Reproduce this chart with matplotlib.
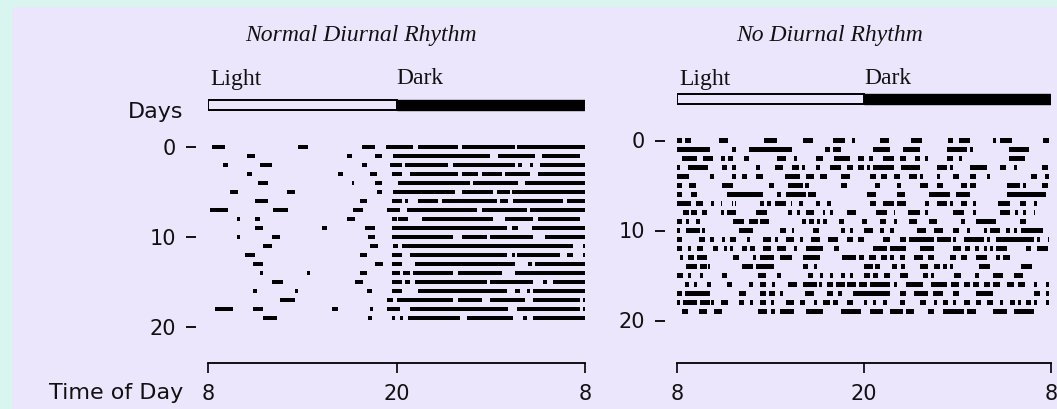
import matplotlib
matplotlib.use("Agg")
import matplotlib.pyplot as plt
from matplotlib.patches import Rectangle

# Activity bouts for each day, as (start, end) in hours after 08:00
NORMAL_RHYTHM = [
    [(0.23, 1.08), (5.75, 6.39), (9.78, 10.63), (11.33, 13.07), (13.39, 15.93), (16.15, 19.54), (19.69, 24)],
    [(2.46, 2.99), (8.83, 9.15), (10.63, 11.05), (11.8, 17.95), (18.48, 20.81), (21.24, 23.68)],
    [(0.98, 1.29), (3.31, 4.05), (9.78, 10.1), (11.58, 12.33), (12.54, 15.3), (15.62, 19.54), (19.75, 19.97), (20.5, 20.71), (21.13, 24)],
    [(2.46, 2.78), (8.3, 8.61), (10.31, 10.74), (11.69, 12.33), (12.86, 15.93), (16.15, 17.21), (17.42, 18.69), (18.91, 20.5), (21.03, 24)],
    [(3.2, 3.84), (9.15, 9.29), (10.63, 11.05), (12.12, 16.68), (16.89, 19.75), (20.18, 24)],
    [(1.4, 1.93), (5.01, 5.54), (10.74, 11.05), (11.8, 15.72), (16.15, 18.16), (18.37, 19.23), (19.33, 24)],
    [(2.99, 3.84), (9.68, 10.1), (11.69, 12.33), (12.54, 12.75), (13.39, 14.66), (14.87, 18.37), (18.59, 19.12), (19.44, 22.62), (22.83, 24)],
    [(0.13, 1.29), (4.16, 5.11), (9.25, 9.89), (11.37, 12.22), (12.65, 17.1), (17.42, 20.28), (20.5, 24)],
    [(1.82, 2.04), (2.99, 3.31), (8.83, 9.36), (11.69, 12.01), (12.12, 12.75), (13.6, 18.16), (18.91, 20.71), (21.03, 23.68)],
    [(2.99, 3.52), (7.24, 7.55), (9.99, 10.63), (11.69, 19.01), (19.33, 19.75), (20.6, 24)],
    [(1.82, 2.04), (4.05, 4.58), (10.21, 10.63), (11.69, 15.62), (16.15, 17.74), (17.95, 20.71), (21.45, 24)],
    [(3.52, 4.05), (10.31, 10.84), (11.8, 12.12), (12.33, 23.26), (23.89, 24)],
    [(2.36, 2.99), (9.68, 10.1), (11.69, 12.33), (12.86, 19.01), (19.33, 19.54), (19.65, 22.41), (22.83, 23.26), (23.89, 24)],
    [(2.89, 3.52), (10.63, 11.16), (11.69, 12.33), (13.18, 19.54), (20.39, 20.6), (20.81, 24)],
    [(3.31, 3.52), (6.28, 6.49), (9.68, 10.1), (11.69, 12.22), (12.43, 12.86), (13.07, 15.62), (15.93, 18.69), (19.54, 24)],
    [(4.05, 4.8), (9.36, 9.89), (11.69, 12.33), (12.54, 12.86), (13.18, 17.74), (17.95, 20.71), (21.35, 21.56), (21.98, 24)],
    [(2.89, 3.1), (5.54, 5.75), (10.1, 10.42), (11.69, 12.33), (13.39, 19.01), (19.54, 19.86), (20.28, 20.5), (20.71, 24)],
    [(4.58, 5.54), (11.37, 11.8), (12.01, 15.62), (15.93, 17.42), (17.95, 20.18), (20.71, 23.68), (23.89, 24)],
    [(0.45, 1.61), (2.89, 3.52), (7.87, 8.3), (10.31, 10.52), (11.37, 12.22), (12.86, 19.12), (19.65, 23.68), (23.89, 24)],
    [(3.52, 4.37), (10.21, 10.42), (11.69, 11.9), (12.22, 12.43), (12.75, 16.04), (16.47, 19.44), (20.07, 20.28), (20.71, 24)],
]

NO_RHYTHM = [
    [(0.0, 0.3), (0.5, 0.9), (2.7, 3.3), (5.6, 6.4), (8.1, 8.7), (10.0, 10.8), (11.2, 11.4), (13.0, 13.6), (15.0, 15.7), (17.4, 17.7), (18.1, 18.8), (20.3, 20.5), (20.7, 21.5), (23.5, 23.9)],
    [(0.0, 2.1), (3.5, 3.8), (4.6, 7.4), (9.5, 9.8), (10.0, 10.5), (12.6, 13.7), (14.5, 15.6), (17.3, 18.6), (18.8, 19.0), (21.3, 22.6)],
    [(0.3, 1.3), (1.7, 2.3), (2.8, 3.1), (3.3, 3.6), (4.3, 4.6), (6.4, 7.0), (7.5, 7.7), (8.9, 9.4), (10.1, 11.1), (11.6, 12.0), (12.3, 12.6), (13.2, 13.9), (14.3, 14.7), (15.3, 15.6), (15.9, 16.1), (17.3, 17.7), (18.1, 18.3), (21.3, 22.3)],
    [(0.0, 0.2), (0.7, 2.0), (2.9, 3.2), (3.5, 3.8), (5.1, 5.3), (6.3, 6.8), (7.4, 7.8), (8.0, 8.2), (8.9, 9.2), (9.8, 10.5), (10.9, 11.3), (11.6, 12.0), (12.2, 12.4), (12.6, 13.9), (14.4, 15.6), (16.7, 17.3), (17.5, 17.7), (18.8, 19.9), (20.7, 21.1), (21.6, 21.8), (23.4, 23.8)],
    [(0.0, 0.8), (2.1, 2.4), (3.5, 3.8), (4.2, 4.5), (5.1, 5.5), (6.9, 7.9), (8.3, 8.8), (9.2, 9.6), (10.5, 11.1), (12.4, 12.8), (13.1, 13.5), (13.9, 14.3), (14.9, 15.4), (15.6, 15.8), (16.7, 16.9), (17.7, 18.1), (18.8, 19.2), (19.9, 20.1), (22.7, 23.1), (23.6, 23.9)],
    [(0.0, 0.3), (0.8, 1.2), (2.9, 3.6), (5.9, 6.2), (7.1, 8.1), (8.2, 8.5), (10.5, 10.9), (12.7, 13.0), (14.1, 14.4), (15.6, 16.1), (16.7, 17.1), (18.2, 18.6), (18.8, 19.2), (21.2, 22.0), (22.2, 22.4), (23.4, 23.8)],
    [(0.0, 0.3), (0.9, 1.3), (3.2, 5.5), (6.4, 6.7), (7.0, 8.3), (8.4, 8.9), (12.2, 12.8), (14.1, 14.6), (16.2, 17.5), (17.9, 18.8), (21.2, 23.7)],
    [(0.0, 0.9), (1.2, 1.7), (2.2, 2.4), (2.8, 2.9), (3.5, 3.6), (3.7, 3.8), (5.3, 5.6), (5.8, 6.0), (6.3, 7.0), (7.3, 7.4), (7.8, 8.1), (8.9, 9.2), (9.6, 9.9), (12.4, 12.8), (13.2, 13.9), (14.1, 14.7), (15.9, 16.2), (16.7, 17.3), (17.5, 17.7), (18.2, 18.6), (19.0, 19.2), (20.6, 21.4), (22.0, 22.4), (22.9, 23.1)],
    [(0.4, 0.8), (0.9, 1.3), (1.6, 1.9), (2.8, 3.0), (3.2, 3.8), (5.1, 5.8), (7.1, 7.4), (7.7, 7.9), (8.3, 8.8), (9.4, 9.5), (9.8, 10.0), (10.9, 11.5), (12.8, 13.5), (13.9, 14.0), (14.8, 15.6), (15.9, 16.1), (17.7, 18.4), (19.0, 19.2), (20.7, 21.4), (21.7, 21.9), (22.2, 22.4), (22.9, 23.0)],
    [(0.0, 0.3), (0.6, 0.8), (1.2, 1.5), (3.6, 4.3), (4.6, 5.2), (5.3, 5.9), (8.0, 8.3), (8.5, 8.8), (9.0, 9.2), (9.4, 9.6), (10.4, 10.7), (11.9, 12.2), (13.0, 13.4), (13.9, 14.1), (14.9, 15.4), (16.2, 16.7), (18.2, 18.5), (19.2, 20.5), (22.0, 22.4)],
    [(0.0, 0.2), (0.6, 1.5), (1.6, 1.8), (4.0, 4.9), (6.6, 7.0), (7.4, 7.5), (8.7, 9.1), (10.5, 10.8), (11.1, 11.3), (12.0, 12.6), (13.0, 13.3), (13.7, 13.9), (15.4, 16.0), (16.5, 17.1), (17.7, 18.1), (18.6, 18.8), (19.7, 19.9), (20.1, 20.7), (21.1, 21.4), (21.6, 21.8), (22.1, 23.5)],
    [(0.0, 0.3), (1.4, 1.8), (2.1, 2.4), (2.9, 3.1), (3.4, 3.8), (4.5, 4.7), (5.5, 6.0), (6.3, 6.5), (7.0, 7.5), (7.9, 8.1), (8.6, 9.2), (9.7, 10.3), (10.9, 11.3), (11.6, 12.0), (13.2, 13.7), (14.3, 14.7), (14.9, 16.5), (16.7, 17.6), (17.7, 17.9), (18.4, 19.7), (19.9, 20.1), (20.5, 22.9), (23.1, 23.3), (23.8, 23.9)],
    [(0.0, 0.3), (0.7, 0.9), (1.3, 1.7), (2.3, 2.6), (3.0, 3.2), (3.4, 3.6), (4.2, 4.5), (4.7, 5.0), (5.5, 6.0), (6.4, 7.0), (7.5, 7.7), (8.3, 9.4), (10.1, 10.4), (12.6, 13.5), (13.7, 14.7), (15.6, 16.5), (17.7, 18.2), (18.5, 18.8), (19.1, 19.4), (19.7, 19.9), (20.1, 20.3), (20.5, 21.2), (22.4, 22.7), (23.1, 23.8)],
    [(0.2, 0.4), (0.7, 1.1), (1.3, 1.9), (3.6, 4.0), (4.9, 5.1), (5.3, 6.2), (6.6, 7.4), (8.1, 9.2), (10.6, 11.5), (11.7, 12.0), (12.3, 12.8), (13.1, 13.5), (13.7, 13.9), (14.3, 14.6), (15.2, 15.8), (16.1, 16.5), (17.5, 17.9), (18.2, 18.6), (19.2, 19.9), (20.5, 20.7), (20.9, 21.4)],
    [(0.6, 1.3), (1.5, 1.9), (2.0, 2.1), (4.2, 4.9), (5.1, 6.2), (8.1, 8.4), (8.8, 9.0), (12.0, 12.6), (12.7, 13.0), (13.8, 14.1), (14.4, 14.6), (15.6, 16.1), (16.5, 16.9), (17.1, 17.3), (17.5, 17.7), (19.4, 20.1), (22.1, 22.8)],
    [(0.0, 0.4), (0.7, 0.9), (1.5, 1.7), (2.9, 3.2), (5.2, 5.7), (6.4, 6.7), (8.4, 8.7), (9.2, 9.4), (9.8, 10.0), (10.5, 10.8), (11.1, 11.3), (12.0, 12.4), (12.6, 12.9), (13.3, 13.7), (14.3, 14.8), (15.8, 16.1), (16.3, 16.5), (17.8, 18.2), (19.1, 19.4), (20.3, 20.9), (21.6, 22.2)],
    [(0.5, 0.8), (1.1, 1.3), (1.9, 2.2), (3.2, 3.5), (4.6, 4.9), (5.3, 5.7), (6.1, 6.3), (7.1, 7.7), (8.1, 9.0), (9.1, 9.3), (9.6, 10.0), (10.2, 10.8), (10.9, 11.5), (11.7, 12.2), (12.4, 13.7), (13.9, 14.1), (14.7, 15.8), (16.3, 17.3), (17.6, 18.1), (18.4, 18.8), (19.0, 19.4), (19.7, 20.1), (20.3, 20.7), (21.2, 21.6), (21.9, 22.3), (22.9, 23.1), (23.7, 23.9)],
    [(0.0, 0.3), (0.5, 2.1), (4.0, 4.4), (5.3, 5.7), (5.9, 6.3), (6.6, 6.8), (8.2, 8.8), (9.6, 10.0), (10.3, 10.6), (11.3, 13.7), (14.3, 14.7), (15.2, 16.1), (16.4, 17.1), (17.7, 18.1), (19.2, 20.3), (22.9, 23.3), (23.7, 23.9)],
    [(0.0, 0.2), (0.4, 1.3), (1.5, 2.1), (2.2, 2.4), (2.8, 3.3), (4.0, 4.3), (4.7, 4.9), (5.3, 5.7), (6.0, 6.2), (7.0, 7.5), (7.9, 8.2), (8.8, 9.0), (9.4, 9.8), (10.0, 10.3), (10.9, 11.3), (12.0, 12.2), (12.6, 12.8), (13.2, 13.5), (14.3, 14.6), (15.6, 16.0), (16.5, 16.7), (17.1, 17.4), (17.7, 17.9), (18.4, 18.8), (19.2, 19.5), (19.9, 20.3), (20.7, 20.9), (21.4, 21.7), (21.9, 22.1), (22.4, 22.7), (22.9, 23.1), (23.7, 23.9)],
    [(0.3, 0.7), (1.4, 1.9), (2.4, 2.9), (5.2, 5.8), (6.0, 6.3), (6.6, 7.5), (8.3, 9.4), (10.5, 11.8), (12.4, 13.2), (13.7, 14.5), (14.7, 15.2), (16.1, 16.5), (17.1, 18.4), (18.6, 19.2), (20.3, 21.2), (21.6, 22.9)],
]

TITLES = ["Normal Diurnal Rhythm", "No Diurnal Rhythm"]
DAY_TICKS = [0, 10, 20]
HOUR_TICKS = [0, 12, 24]
HOUR_LABELS = ["8", "20", "8"]
LIGHT_PERIOD = (0, 12)
DARK_PERIOD = (12, 24)

# Layout (pixels of a 1057x409 image)
W, H = 1057, 409
BG = "#ece6fc"
EDGE = "#d9f5ef"
INK = "#111111"
PX_PER_DAY = 9.0
AX_TOP, AX_BOTTOM = 60, 363
PANELS = [
    # x start, x end, y of day 0, title centre
    (208, 585, 147.0, 361),
    (677, 1051, 140.5, 830),
]
SANS = "DejaVu Sans"
SERIF = "Liberation Serif"


def draw_panel(fig, rows, title, x0, x1, day0, title_x):
    ax = fig.add_axes([x0 / W, 1 - AX_BOTTOM / H, (x1 - x0) / W, (AX_BOTTOM - AX_TOP) / H])
    to_day = lambda y: (y - day0) / PX_PER_DAY

    ax.set_xlim(HOUR_TICKS[0], HOUR_TICKS[-1])
    ax.set_ylim(to_day(AX_BOTTOM), to_day(AX_TOP))
    ax.patch.set_visible(False)

    for day, bouts in enumerate(rows):
        ax.broken_barh([(s, e - s) for s, e in bouts], (day - 0.23, 0.46),
                       facecolor="black", edgecolor="none")

    # light / dark bar above the record
    y_bar = to_day(day0 - 47)
    bar_h = 10 / PX_PER_DAY
    ax.add_patch(Rectangle((LIGHT_PERIOD[0], y_bar), LIGHT_PERIOD[1] - LIGHT_PERIOD[0], bar_h,
                           facecolor=BG, edgecolor="black", lw=1.4))
    ax.add_patch(Rectangle((DARK_PERIOD[0], y_bar), DARK_PERIOD[1] - DARK_PERIOD[0], bar_h,
                           facecolor="black", edgecolor="black", lw=1.0))
    ax.text(LIGHT_PERIOD[0] + 0.15, to_day(79), "Light", family=SERIF, size=17,
            color=INK, ha="left", va="center")
    ax.text(DARK_PERIOD[0], to_day(78), "Dark", family=SERIF, size=17,
            color=INK, ha="left", va="center")

    fig.text(title_x / W, 1 - 36 / H, title, family=SERIF, style="italic", size=17,
             color=INK, ha="center", va="center")

    for side in ["top", "right", "left"]:
        ax.spines[side].set_visible(False)
    ax.spines["left"].set_position(("outward", 9))
    ax.spines["bottom"].set_linewidth(1.3)

    ax.set_yticks(DAY_TICKS)
    ax.set_yticklabels([str(d) for d in DAY_TICKS])
    ax.set_xticks(HOUR_TICKS)
    ax.set_xticklabels(HOUR_LABELS)
    ax.tick_params(axis="y", length=7, width=1.4, pad=7, labelsize=15,
                   colors=INK, labelfontfamily=SANS)
    ax.tick_params(axis="x", length=7, width=1.3, pad=8, labelsize=15,
                   colors=INK, labelfontfamily=SANS)
    return ax


def main():
    fig = plt.figure(figsize=(W / 100, H / 100), dpi=100, facecolor=EDGE)
    fig.patches.append(Rectangle((12 / W, 0), 1, 1 - 7 / H, transform=fig.transFigure,
                                 facecolor=BG, edgecolor="none", zorder=-1))

    for rows, title, panel in zip([NORMAL_RHYTHM, NO_RHYTHM], TITLES, PANELS):
        draw_panel(fig, rows, title, *panel)

    fig.text(183 / W, 1 - 112 / H, "Days", family=SANS, size=16, color=INK,
             ha="right", va="center")
    fig.text(183 / W, 1 - 393 / H, "Time of Day", family=SANS, size=16, color=INK,
             ha="right", va="center")

    fig.savefig("out.png", dpi=100, facecolor=EDGE)


if __name__ == "__main__":
    main()
